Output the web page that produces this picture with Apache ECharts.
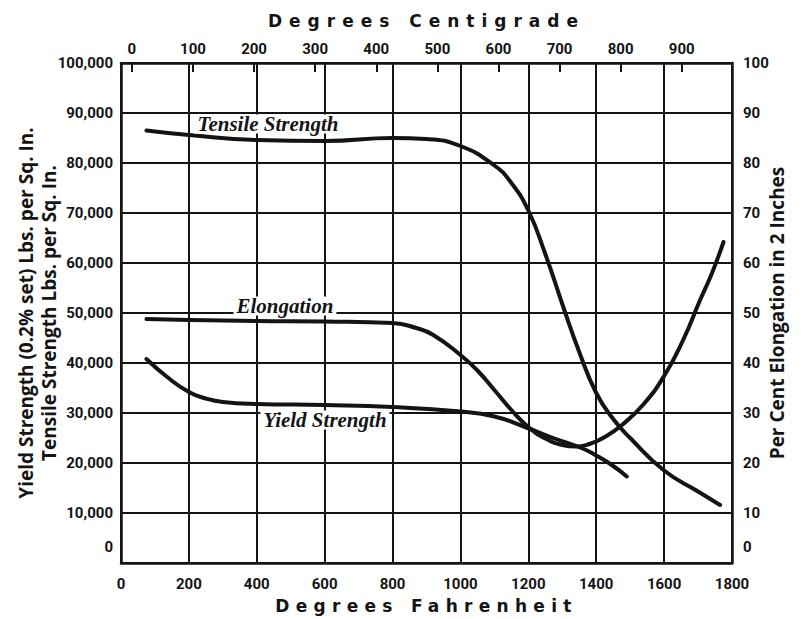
<!DOCTYPE html>
<html><head><meta charset="utf-8">
<script src="https://cdn.jsdelivr.net/npm/echarts@6/dist/echarts.min.js"></script>
<style>html,body{margin:0;padding:0;background:#fff}#c{width:805px;height:619px}</style>
</head><body><div id="c"></div>
<script>
// ---- data ----
const fahrenheitTicks = [0, 200, 400, 600, 800, 1000, 1200, 1400, 1600, 1800];
const centigradeTicks = [0, 100, 200, 300, 400, 500, 600, 700, 800, 900];
const strengthTicks = [0, 10000, 20000, 30000, 40000, 50000, 60000, 70000, 80000, 90000, 100000];
const elongationTicks = [0, 10, 20, 30, 40, 50, 60, 70, 80, 90, 100];

const tensileF = [75, 200, 400, 600, 800, 900, 1000, 1100, 1150, 1200, 1250, 1300, 1350, 1400, 1450, 1500, 1600, 1700, 1765];
const tensilePsi = [86500, 85600, 84600, 84400, 85000, 84800, 83400, 79500, 76000, 70500, 61800, 51800, 42200, 34000, 28800, 25000, 18500, 14300, 11600];

const yieldF = [75, 136, 200, 250, 300, 400, 600, 800, 1000, 1100, 1190, 1265, 1360, 1400, 1450, 1490];
const yieldPsi = [40800, 37200, 34200, 32900, 32200, 31800, 31600, 31200, 30300, 29300, 27200, 25200, 22900, 21500, 19400, 17300];

const elongF = [75, 200, 400, 600, 800, 870, 920, 1000, 1050, 1100, 1150, 1200, 1250, 1300, 1340, 1380, 1420, 1476, 1540, 1600, 1656, 1706, 1740, 1775];
const elongPct = [48.8, 48.6, 48.4, 48.3, 48.0, 47.0, 45.6, 41.6, 38.5, 34.6, 30.6, 27.2, 24.9, 23.6, 23.3, 23.8, 25.0, 27.6, 31.8, 37.4, 44.6, 52.6, 57.8, 64.2];

const seriesNames = ['Tensile Strength', 'Yield Strength', 'Elongation'];
// label anchors in data units [°F, value]
const tensileLabelAt = [433, 87800];
const yieldLabelAt = [601, 28600];
const elongLabelAt = [483, 51.4];

// ---- helpers ----
const zip = (xs, ys) => xs.map((x, i) => [x, ys[i]]);
const F0 = fahrenheitTicks[0], F1 = fahrenheitTicks[fahrenheitTicks.length - 1];
const toC = f => (f - 32) / 1.8;

const INK = '#141414';
const numFont = "'Roboto','Liberation Sans',sans-serif";
const nameFont = "'Open Sans','Noto Sans',sans-serif";
const curveLabel = (text, coord) => ({
  symbol: 'rect', symbolSize: 1, silent: true,
  itemStyle: { color: 'rgba(0,0,0,0)' },
  label: {
    show: true, position: 'inside', formatter: text,
    fontFamily: "'Liberation Serif','DejaVu Serif',serif", fontStyle: 'italic', fontWeight: 'bold',
    fontSize: 21, lineHeight: 19, color: INK, backgroundColor: '#fff', padding: [0, 3]
  },
  data: [{ coord: coord }]
});
const lineSeries = (name, data, yIdx, lbl) => ({
  name, type: 'line', xAxisIndex: 0, yAxisIndex: yIdx, data,
  smooth: 0.5, showSymbol: false, symbol: 'none',
  lineStyle: { color: INK, width: 4, cap: 'round', join: 'round' },
  markPoint: lbl, z: 3
});

const axisLabelBase = { color: INK, fontFamily: numFont, fontWeight: 'bold', fontSize: 15 };
const zeroRich = { z: { color: INK, fontFamily: numFont, fontWeight: 'bold', fontSize: 15, padding: [0, 0, 32, 0] } };
const gridLine = { show: true, lineStyle: { color: INK, width: 2 } };
const border = { show: true, onZero: false, lineStyle: { color: INK, width: 2.5 } };
const titleText = { color: INK, fontFamily: "'DejaVu Sans',sans-serif", fontWeight: 'bold', fontSize: 17 };

const chart = echarts.init(document.getElementById('c'), null, { renderer: 'svg' });
chart.setOption({
  animation: false,
  backgroundColor: '#fff',
  grid: { left: 121, right: 73, top: 63, bottom: 56, containLabel: false, outerBoundsMode: 'none' },
  xAxis: [
    {
      type: 'value', position: 'bottom', min: F0, max: F1, interval: 200,
      axisLine: border, axisTick: { show: false }, splitLine: gridLine,
      axisLabel: Object.assign({ margin: 13, formatter: v => String(v) }, axisLabelBase),
      name: 'Degrees Fahrenheit', nameLocation: 'middle', nameGap: 34, nameMoveOverlap: false, nameTextStyle: titleText
    },
    {
      type: 'value', position: 'top', min: toC(F0), max: toC(F1),
      axisLine: border, splitLine: { show: false },
      axisTick: { show: true, inside: true, length: 9, customValues: centigradeTicks, lineStyle: { color: INK, width: 2 } },
      axisLabel: Object.assign({ margin: 7, customValues: centigradeTicks, formatter: v => String(v) }, axisLabelBase),
      name: 'Degrees Centigrade', nameLocation: 'middle', nameGap: 34, nameMoveOverlap: false, nameTextStyle: titleText
    }
  ],
  yAxis: [
    {
      type: 'value', position: 'left', min: strengthTicks[0], max: strengthTicks[strengthTicks.length - 1], interval: 10000,
      axisLine: border, axisTick: { show: false }, splitLine: gridLine,
      axisLabel: Object.assign({ margin: 8, rich: zeroRich, formatter: v => v === 0 ? '{z|0}' : v.toLocaleString('en-US') }, axisLabelBase),
      name: 'Yield Strength (0.2% set) Lbs. per Sq. In.\nTensile Strength Lbs. per Sq. In.',
      nameLocation: 'middle', nameRotate: 90, nameGap: 61, nameMoveOverlap: false,
      nameTextStyle: { color: INK, fontFamily: nameFont, fontWeight: 'bold', fontSize: 19, lineHeight: 23, align: 'center' }
    },
    {
      type: 'value', position: 'right', min: elongationTicks[0], max: elongationTicks[elongationTicks.length - 1], interval: 10,
      axisLine: border, axisTick: { show: false }, splitLine: { show: false },
      axisLabel: Object.assign({ margin: 11, rich: zeroRich, formatter: v => v === 0 ? '{z|0}' : String(v) }, axisLabelBase),
      name: 'Per Cent Elongation in 2 Inches', nameLocation: 'middle', nameRotate: 90, nameGap: 35, nameMoveOverlap: false,
      nameTextStyle: { color: INK, fontFamily: nameFont, fontWeight: 'bold', fontSize: 19 }
    }
  ],
  series: [
    lineSeries(seriesNames[0], zip(tensileF, tensilePsi), 0, curveLabel(seriesNames[0], tensileLabelAt)),
    lineSeries(seriesNames[1], zip(yieldF, yieldPsi), 0, curveLabel(seriesNames[1], yieldLabelAt)),
    lineSeries(seriesNames[2], zip(elongF, elongPct), 1, curveLabel(seriesNames[2], elongLabelAt))
  ]
});

function spaceTitles() {
  document.querySelectorAll('#c text').forEach(t => {
    const s = t.textContent;
    if (s === 'Degrees Centigrade') t.style.letterSpacing = '7px';
    if (s === 'Degrees Fahrenheit') t.style.letterSpacing = '6.3px';
  });
}
spaceTitles();
chart.on('finished', spaceTitles);
</script>
</body></html>
